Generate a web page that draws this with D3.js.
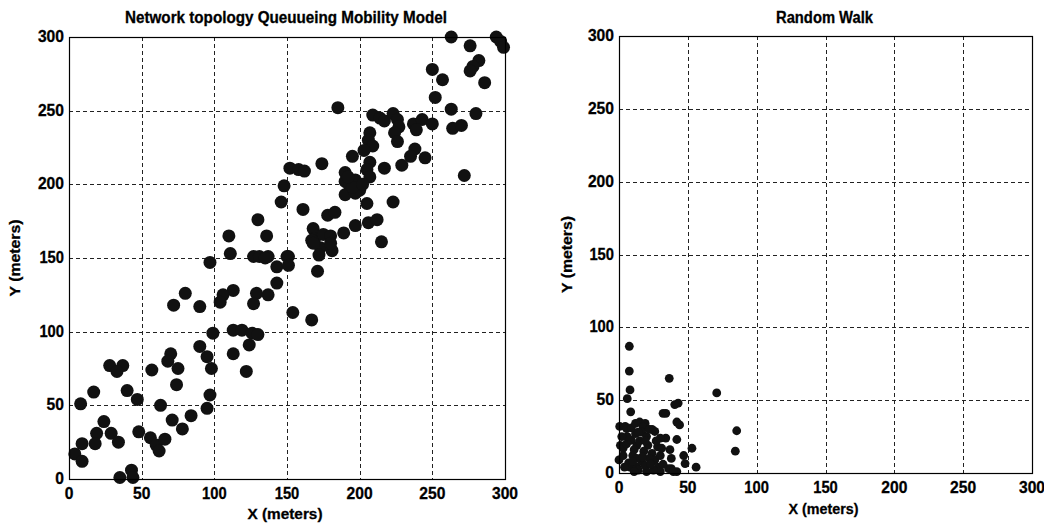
<!DOCTYPE html>
<html>
<head>
<meta charset="utf-8">
<script src="https://cdn.jsdelivr.net/npm/d3@7"></script>
<style>
  body { margin: 0; background: #fff; }
  text { font-family: "Liberation Sans Narrow", "Arial Narrow", "Liberation Sans", Arial, sans-serif; font-weight: bold; fill: #000; stroke: #000; stroke-width: 0.3; }
</style>
</head>
<body>
<div id="chart"></div>
<script>
// tick values shared by both panels
const ticks = [0, 50, 100, 150, 200, 250, 300];

// Queueing mobility model node positions (meters)
const queueX = [97, 111, 127, 131, 137, 143, 143, 113, 106, 104, 129, 137, 127, 80, 72, 90, 99, 113, 119, 126,
  130, 124, 113, 122, 90, 95, 98, 70, 68, 75, 57, 74, 28, 37, 33, 17, 40, 47, 8, 63,
  97, 95, 84, 71, 78, 24, 19, 18, 29, 34, 9, 4, 9, 48, 56, 60, 66, 62, 35, 43,
  44, 148, 146, 130, 110, 136, 263, 276, 282, 278, 276, 286, 250, 257, 252, 263, 280, 264, 270, 272,
  185, 209, 214, 217, 223, 226, 227, 224, 226, 237, 243, 250, 239, 207, 206, 209, 203, 195, 207, 205,
  207, 217, 238, 235, 245, 229, 174, 152, 158, 162, 161, 190, 190, 193, 197, 200, 190, 197, 205, 223,
  178, 183, 168, 169, 175, 180, 189, 197, 206, 212, 215, 167, 173, 181, 172, 151, 135, 150, 151, 168,
  180, 171, 154, 167, 294, 297, 299, 195, 202, 192];
const queueY = [147, 153, 151, 151, 151, 144, 133, 128, 125, 120, 126, 125, 119, 126, 118, 117, 99, 101, 101, 99,
  98, 91, 85, 73, 90, 83, 75, 85, 80, 75, 74, 64, 77, 77, 73, 59, 60, 54, 51, 50,
  57, 48, 43, 40, 34, 39, 31, 24, 31, 25, 24, 17, 12, 32, 28, 23, 27, 19, 1, 6,
  1, 199, 188, 176, 165, 165, 300, 294, 284, 280, 277, 269, 278, 271, 259, 251, 248, 238, 240, 206,
  252, 247, 245, 243, 248, 244, 239, 235, 229, 241, 244, 241, 237, 235, 230, 226, 223, 219, 215, 210,
  205, 211, 224, 219, 218, 213, 214, 211, 210, 209, 183, 208, 202, 199, 203, 196, 193, 194, 187, 188,
  179, 181, 170, 163, 166, 165, 167, 172, 174, 176, 161, 162, 157, 155, 152, 151, 150, 151, 145, 160,
  160, 141, 113, 108, 300, 297, 293, 198, 200, 205];

// Random walk node positions (meters)
const walkX = [7.5, 7.5, 8, 6, 8.5, 36.5, 71, 85.5, 84.5, 56, 53, 47, 43, 40.5, 32, 34, 42, 44, 42, 34,
  0.5, 4.5, 15, 19, 26, 1, 3, 5.5, 0, 20, 30, 42, 38, 48, 8, 13, 9, 13, 21, 24,
  26, 37, 38, 16.5, 14, 28.5, 36, 39.5, 17.5, 16.5, 5.5, 7, 10, 12, 20, 22, 18, 28, 30, 11,
  25, 3, 32, 15, 24, 9, 30, 19, 6, 13, 2, 11, 14, 22, 27, 17, 23, 31, 12, 4, 10, 19];
const walkY = [87, 70, 57, 51, 42, 65, 55, 29, 15, 4, 17, 12, 48, 47, 41, 41, 35, 33, 23, 24,
  32, 32, 35, 34, 28.5, 19, 17, 20, 9, 1, 1, 1, 3, 6.5, 4, 4, 22.5, 19, 19, 13.5,
  9, 16, 10, 8, 2, 4, 3, 1, 31.5, 28, 30.5, 7, 12, 27, 25, 10, 15, 18, 12, 1,
  2, 12, 6, 22, 30, 31, 24, 5, 25, 10, 25, 16, 28, 30, 22, 11, 6, 17, 34, 4, 8, 22];

const titles = ["Network topology Queuueing Mobility Model", "Random Walk"];

const width = 1044, height = 525;
const svg = d3.select("#chart").append("svg")
    .attr("width", width)
    .attr("height", height);

// panel boxes in pixels
const panels = [
    {x0: 69, x1: 505, y0: 37, y1: 479, r: 6.5, xs: queueX, ys: queueY, title: titles[0],
     titleW: 322, titleY: 23, xlabW: 75, xlabY: 519, ylabX: 20, ylabW: 77},
    {x0: 619, x1: 1032, y0: 36, y1: 473, r: 4.4, xs: walkX, ys: walkY, title: titles[1],
     titleW: 97, titleY: 22.5, xlabW: 70, xlabY: 514, ylabX: 572, ylabW: 77}
];

function labelWidth(s) {
    let w = 0;
    for (const c of s) w += (c === "1") ? 7.2 : 8.7;
    return w;
}

panels.forEach(function (p) {
    const x = d3.scaleLinear().domain([0, 300]).range([p.x0, p.x1]);
    const y = d3.scaleLinear().domain([0, 300]).range([p.y1, p.y0]);
    const g = svg.append("g");

    // dashed grid
    g.append("g").selectAll("line.v").data(ticks.slice(1, -1)).enter()
        .append("line")
        .attr("x1", d => Math.round(x(d)) + 0.5).attr("x2", d => Math.round(x(d)) + 0.5)
        .attr("y1", p.y0).attr("y2", p.y1)
        .attr("stroke", "#222").attr("stroke-width", 1).attr("stroke-dasharray", "4,3");
    g.append("g").selectAll("line.h").data(ticks.slice(1, -1)).enter()
        .append("line")
        .attr("y1", d => Math.round(y(d)) + 0.5).attr("y2", d => Math.round(y(d)) + 0.5)
        .attr("x1", p.x0).attr("x2", p.x1)
        .attr("stroke", "#222").attr("stroke-width", 1).attr("stroke-dasharray", "4,3");

    // markers
    const pts = p.xs.map((v, i) => [v, p.ys[i]]);
    g.append("g").selectAll("circle").data(pts).enter()
        .append("circle")
        .attr("cx", d => x(d[0]))
        .attr("cy", d => y(d[1]))
        .attr("r", p.r)
        .attr("fill", "#111");

    // frame
    g.append("rect")
        .attr("x", p.x0 + 0.5).attr("y", p.y0 + 0.5)
        .attr("width", p.x1 - p.x0).attr("height", p.y1 - p.y0)
        .attr("fill", "none").attr("stroke", "#000").attr("stroke-width", 1.2);

    // tick labels
    g.append("g").selectAll("text").data(ticks).enter()
        .append("text")
        .attr("x", d => x(d))
        .attr("y", p.y1 + 19.5)
        .attr("text-anchor", "middle")
        .attr("font-size", 17)
        .attr("textLength", d => labelWidth(String(d)))
        .attr("lengthAdjust", "spacingAndGlyphs")
        .text(d => d);
    g.append("g").selectAll("text").data(ticks).enter()
        .append("text")
        .attr("x", p.x0 - 5)
        .attr("y", d => y(d) + 5)
        .attr("text-anchor", "end")
        .attr("font-size", 17)
        .attr("textLength", d => labelWidth(String(d)))
        .attr("lengthAdjust", "spacingAndGlyphs")
        .text(d => d);

    // title and axis labels
    g.append("text")
        .attr("x", (p.x0 + p.x1) / 2 - 1)
        .attr("y", p.titleY)
        .attr("text-anchor", "middle")
        .attr("font-size", 16)
        .attr("textLength", p.titleW)
        .attr("lengthAdjust", "spacingAndGlyphs")
        .text(p.title);
    g.append("text")
        .attr("x", (p.x0 + p.x1) / 2 - 2)
        .attr("y", p.xlabY)
        .attr("text-anchor", "middle")
        .attr("font-size", 15.5)
        .attr("textLength", p.xlabW)
        .attr("lengthAdjust", "spacingAndGlyphs")
        .text("X (meters)");
    g.append("text")
        .attr("transform", "translate(" + p.ylabX + "," + ((p.y0 + p.y1) / 2) + ") rotate(-90)")
        .attr("text-anchor", "middle")
        .attr("font-size", 15.5)
        .attr("textLength", p.ylabW)
        .attr("lengthAdjust", "spacingAndGlyphs")
        .text("Y (meters)");
});
</script>
</body>
</html>
